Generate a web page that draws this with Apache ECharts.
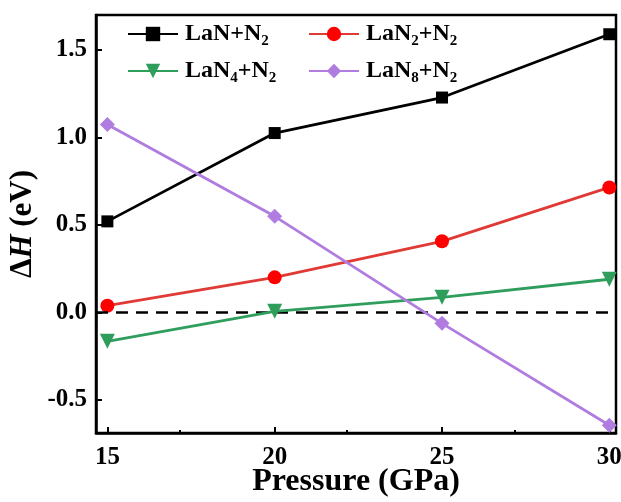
<!DOCTYPE html>
<html><head><meta charset="utf-8">
<script src="https://cdn.jsdelivr.net/npm/echarts@6/dist/echarts.min.js"></script>
<style>html,body{margin:0;padding:0;background:#fff}#c{width:621px;height:502px}</style>
</head><body><div id="c"></div>
<script>
const pressure = [15, 20, 25, 30];
const lanN2 = [0.52, 1.025, 1.228, 1.59];
const lan2N2 = [0.038, 0.2, 0.406, 0.714];
const lan4N2 = [-0.166, 0.006, 0.086, 0.189];
const lan8N2 = [1.074, 0.549, -0.063, -0.646];
const seriesNames = ['LaN+N2', 'LaN2+N2', 'LaN4+N2', 'LaN8+N2'];
const legendLabels = {
  'LaN+N2': '{t|LaN+N}{s|2}',
  'LaN2+N2': '{t|LaN}{s|2}{t|+N}{s|2}',
  'LaN4+N2': '{t|LaN}{s|4}{t|+N}{s|2}',
  'LaN8+N2': '{t|LaN}{s|8}{t|+N}{s|2}'
};
const xTicks = [15, 20, 25, 30];
const yTicks = [-0.5, 0.0, 0.5, 1.0, 1.5];

const font = 'Liberation Serif';
const colors = ['#000000', '#e03a36', '#2f9e5c', '#b07ce0'];
const symbols = ['rect', 'circle', 'triangle', 'diamond'];
const symSizes = [12, 14, 15, 15];
const rot = [0, 0, 180, 0];
const markerColors = ['#000000', '#ff0000', '#2f9e5c', '#b07ce0'];
const dataSets = [lanN2, lan2N2, lan4N2, lan8N2];

const rich = {
  t: {fontFamily: font, fontWeight: 'bold', fontSize: 24, color: '#000', lineHeight: 30, verticalAlign: 'middle'},
  s: {fontFamily: font, fontWeight: 'bold', fontSize: 15, color: '#000', lineHeight: 30, verticalAlign: 'bottom'}
};
const legendPos = [[122, 17], [303, 17], [122, 54], [303, 54]];

const chart = echarts.init(document.getElementById('c'));
chart.setOption({
  animation: false,
  backgroundColor: '#fff',
  grid: {left: 96, right: 5, top: 15, bottom: 69, show: true, borderColor: '#000', borderWidth: 2.5,
    backgroundColor: 'transparent', outerBoundsMode: 'none', containLabel: false},
  legend: seriesNames.map((n, i) => ({
    data: [n], left: legendPos[i][0], top: legendPos[i][1], itemWidth: 50, itemHeight: 18, itemGap: 0,
    symbolRotate: rot[i],
    formatter: (name) => legendLabels[name],
    textStyle: {rich: rich, padding: [0,0,0,2]}
  })),
  xAxis: {
    type: 'value', min: 14.66, max: 30.2,
    name: 'Pressure (GPa)', nameLocation: 'middle', nameGap: 33, nameMoveOverlap: false,
    nameTextStyle: {fontFamily: font, fontWeight: 'bold', fontSize: 32, color: '#000'},
    axisLine: {show: true, onZero: false, lineStyle: {color: '#000', width: 2.5}},
    axisTick: {show: true, inside: true, length: 6, lineStyle: {width: 2, color: '#000'}, customValues: xTicks},
    minorTick: {show: true, splitNumber: 2, length: 3, lineStyle: {width: 2, color: '#000'}},
    axisLabel: {fontFamily: font, fontWeight: 'bold', fontSize: 25, color: '#000', margin: 12, customValues: xTicks},
    splitLine: {show: false}, minorSplitLine: {show: false},
    interval: 5
  },
  yAxis: {
    type: 'value', min: -0.69, max: 1.70,
    name: '{a|Δ}{i|H}{a| (eV)}', nameLocation: 'middle', nameGap: 58, nameRotate: 90, nameMoveOverlap: false,
    nameTextStyle: {rich: {
      a: {fontFamily: font, fontWeight: 'bold', fontSize: 31, color: '#000'},
      i: {fontFamily: font, fontWeight: 'bold', fontStyle: 'italic', fontSize: 31, color: '#000'}
    }},
    axisLine: {show: true, onZero: false, lineStyle: {color: '#000', width: 2.5}},
    axisTick: {show: true, inside: true, length: 6, lineStyle: {width: 2, color: '#000'}, customValues: yTicks},
    axisLabel: {fontFamily: font, fontWeight: 'bold', fontSize: 25, color: '#000', margin: 9, customValues: yTicks,
      formatter: v => v.toFixed(1)},
    splitLine: {show: false}
  },
  series: seriesNames.map((n, i) => ({
    name: n, type: 'line', data: pressure.map((p, j) => [p, dataSets[i][j]]),
    symbol: symbols[i], symbolSize: symSizes[i], symbolRotate: rot[i],
    lineStyle: {color: colors[i], width: 2.8},
    itemStyle: {color: markerColors[i], borderWidth: 0},
    z: 3 + i,
    markLine: i === 0 ? {
      silent: true, symbol: 'none', label: {show: false},
      lineStyle: {color: '#000', type: [12, 8], width: 2.5},
      data: [{yAxis: 0}]
    } : undefined
  }))
});
</script></body></html>
